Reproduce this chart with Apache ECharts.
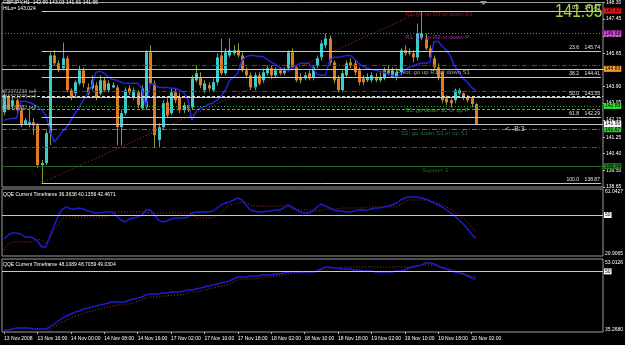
<!DOCTYPE html>
<html><head><meta charset="utf-8">
<script src="https://cdn.jsdelivr.net/npm/echarts@6/dist/echarts.min.js"></script>
<style>html,body{margin:0;padding:0;background:#000;}#c{width:625px;height:345px;}</style>
</head><body><div id="c"></div>
<script>
const symbolLabel = "GBPJPY,H1";
const lastBar = [142.99, 143.03, 141.91, 141.95];
const hiloText = "HiLo= 143.024";
const timeLabels = ["13 Nov 2008","13 Nov 16:00","14 Nov 00:00","14 Nov 08:00","14 Nov 16:00","17 Nov 02:00","17 Nov 10:00","17 Nov 18:00","18 Nov 02:00","18 Nov 10:00","18 Nov 18:00","19 Nov 02:00","19 Nov 10:00","19 Nov 18:00","20 Nov 02:00"];
const priceTicks = [148.30,147.45,146.55,145.65,144.80,143.90,143.05,142.15,141.25,140.40,139.50,138.65];
const opens = [142.56,143.34,142.93,143.19,142.67,141.94,141.94,142.04,141.88,139.80,
139.90,141.47,145.53,145.12,144.86,145.38,143.71,143.55,144.07,144.75,
143.86,143.81,143.97,143.55,144.23,143.71,143.86,143.86,141.78,142.51,
143.81,143.34,143.60,142.77,142.82,145.69,144.07,141.10,141.78,143.08,
142.51,143.60,143.34,142.67,142.93,142.82,144.23,144.39,143.71,143.97,
143.71,144.13,145.53,144.60,145.53,145.64,145.80,145.53,144.75,144.49,
143.86,144.49,144.23,144.60,144.86,144.49,144.75,144.60,144.86,145.69,
144.91,144.39,144.33,144.60,144.39,145.01,145.43,146.06,146.42,145.17,
144.33,143.71,144.49,145.17,145.12,144.75,144.33,144.23,144.23,144.39,
144.23,144.33,144.75,144.39,144.39,144.65,145.80,145.64,145.64,145.43,
146.47,146.37,145.90,145.38,144.91,144.65,143.29,143.19,143.19,143.55,
143.55,143.34,143.29,142.99];
const highs = [143.60,143.45,143.34,143.29,142.82,142.25,142.67,142.25,141.99,140.06,
141.62,145.69,145.80,145.27,146.21,145.53,143.81,144.23,145.01,144.91,
144.07,144.49,144.13,144.49,144.39,144.23,144.13,143.97,142.67,143.86,
143.97,143.86,143.71,143.97,145.80,146.06,144.23,141.99,143.19,143.29,
143.81,143.81,143.55,143.08,143.03,144.49,145.01,144.65,144.23,144.13,
144.33,145.64,146.42,145.90,146.42,146.06,146.16,145.69,144.91,144.65,
144.65,144.65,144.86,145.01,145.01,144.91,144.91,144.91,145.80,145.90,
145.01,144.60,144.65,144.75,145.01,145.53,146.32,146.68,146.58,145.27,
144.49,144.75,145.27,145.38,145.27,144.91,144.49,144.60,144.65,144.60,
144.65,144.91,145.01,144.91,144.86,145.90,146.06,145.90,145.80,147.20,
147.83,146.68,146.06,145.53,145.12,144.75,143.45,143.29,143.81,143.81,
143.60,143.45,143.40,143.03];
const lows = [142.40,142.67,142.77,142.51,141.78,141.88,141.78,141.36,139.64,138.87,
139.80,140.84,145.01,144.65,144.75,143.60,143.19,143.34,143.97,143.86,
143.45,143.71,143.19,143.45,143.60,143.60,143.81,140.84,140.84,142.40,
143.45,143.19,142.77,142.67,142.67,143.97,140.68,140.73,141.62,142.25,
142.40,143.03,142.51,142.51,142.56,142.67,144.13,143.81,143.55,143.60,
143.60,143.97,144.49,144.49,145.43,145.53,145.43,144.65,144.33,143.71,
143.71,143.97,144.07,144.49,144.33,144.39,144.49,144.49,144.75,144.75,
144.13,144.07,144.23,144.23,144.23,144.86,145.27,145.90,145.01,144.07,
143.60,143.60,144.39,144.86,144.49,143.97,143.97,144.13,144.13,144.13,
144.13,144.23,144.49,144.33,144.23,144.49,145.53,145.53,145.17,145.27,
146.32,145.80,145.27,144.75,144.23,143.03,142.93,142.82,143.03,143.45,
143.19,143.08,142.82,141.91];
const closes = [143.45,142.77,143.19,142.67,141.88,142.14,142.04,141.88,139.80,139.90,
141.47,145.53,145.12,144.75,145.38,143.71,143.34,144.13,144.75,144.07,
143.55,144.23,143.34,144.23,143.71,144.07,143.97,141.78,142.51,143.71,
143.60,143.71,142.93,143.81,145.69,144.07,141.36,141.78,143.03,142.40,
143.60,143.19,142.67,142.93,142.77,144.33,144.60,143.97,144.07,143.81,
144.13,145.43,144.60,145.69,145.80,145.80,145.53,144.75,144.49,143.86,
144.49,144.07,144.65,144.86,144.49,144.75,144.60,144.75,145.69,144.91,
144.23,144.23,144.49,144.33,144.91,145.38,146.16,146.42,145.17,144.23,
143.71,144.60,145.12,145.01,144.65,144.13,144.13,144.39,144.49,144.23,
144.39,144.75,144.60,144.75,144.65,145.80,145.64,145.69,145.43,146.68,
146.68,145.90,145.43,144.91,144.39,143.19,143.08,143.03,143.71,143.71,
143.34,143.19,142.99,141.95];
const maLine = [142.14,142.20,142.25,142.25,143.13,143.13,143.08,142.98,142.87,142.67,
142.40,141.62,141.00,141.26,141.57,141.78,142.14,142.51,142.82,143.19,
143.55,143.92,144.65,144.70,144.60,144.39,144.28,144.23,144.13,144.07,
144.07,144.07,144.07,143.81,142.82,144.02,144.02,143.86,143.86,143.86,
143.81,143.81,143.71,143.60,143.29,142.14,142.61,142.77,142.87,142.98,
143.03,143.19,143.40,143.71,144.23,144.39,144.60,145.27,145.47,145.53,
145.53,145.47,145.47,145.33,145.17,145.07,144.91,144.80,144.75,144.86,
145.01,145.12,145.12,145.12,144.86,144.54,144.49,144.49,145.27,145.43,
145.43,145.47,145.53,145.53,145.33,145.12,144.96,144.86,144.80,144.75,
144.70,144.65,144.54,144.49,144.39,144.54,144.75,144.91,144.96,145.07,
145.12,145.12,145.17,146.26,146.26,146.00,145.80,145.47,144.96,144.65,
144.33,144.13,143.86,143.71];
const qqe1Fast = [35.84,38.20,39.38,39.38,38.79,37.02,37.02,36.43,34.66,31.11,
31.11,37.61,43.51,50.00,53.54,54.72,53.54,53.54,54.13,53.54,
52.36,51.77,51.18,51.18,51.77,51.77,51.77,49.41,47.05,45.87,
47.64,48.23,48.82,50.00,52.95,52.95,50.00,47.05,45.87,46.46,
47.64,48.23,48.23,48.23,48.82,51.18,51.77,51.77,51.77,51.77,
52.36,54.13,55.90,57.08,57.67,58.85,60.03,58.85,55.90,52.95,
52.36,51.77,51.77,52.36,52.36,52.95,52.95,54.13,55.90,54.72,
52.95,51.77,51.18,51.18,52.36,54.72,56.49,55.31,54.13,52.95,
52.36,52.36,51.77,51.77,52.36,52.95,52.95,52.95,53.54,54.13,
54.13,54.72,55.31,55.90,57.08,58.85,60.03,60.62,60.62,60.62,
60.03,59.44,58.26,57.08,55.90,54.72,52.95,51.18,49.41,47.05,
44.69,41.74,38.79,36.36];
const qqe1Slow = [29.34,32.88,34.07,34.07,34.07,34.07,34.07,34.07,35.84,35.25,
33.48,36.43,41.15,44.69,48.23,48.82,48.82,48.82,48.82,48.82,
48.82,48.82,48.82,48.82,48.82,48.82,51.18,51.77,51.77,51.77,
51.77,51.77,51.77,51.77,51.77,51.18,51.18,51.18,51.18,51.18,
51.18,51.18,51.18,51.18,51.18,51.18,48.23,48.23,48.23,48.23,
48.23,49.41,51.18,54.13,55.90,56.49,57.08,57.67,57.67,55.90,
55.31,55.31,55.31,55.31,55.31,55.31,55.31,55.31,54.72,53.54,
53.54,52.95,52.95,52.95,52.95,52.36,52.95,53.54,53.54,53.54,
53.54,54.13,54.13,54.13,54.13,54.13,54.13,54.72,54.72,54.72,
54.72,54.72,54.72,54.72,54.72,55.90,57.67,58.85,58.85,58.85,
58.85,58.85,58.26,57.67,57.08,55.90,54.72,53.54,51.77,50.00,
48.23,45.87,42.92,40.14];
const qqe2Fast = [35.75,35.75,35.99,36.24,36.24,36.24,36.24,35.99,35.99,35.99,
35.99,36.48,37.21,37.94,38.67,39.16,39.64,40.13,40.37,40.86,
41.10,41.34,41.59,41.83,42.07,42.32,42.56,42.56,42.56,42.56,
43.05,43.29,43.53,43.78,44.26,44.50,44.50,44.50,44.75,44.75,
44.99,44.99,44.99,45.23,45.48,45.48,45.72,45.96,46.21,46.45,
46.69,46.94,47.18,47.42,47.67,48.15,48.64,48.64,48.64,48.88,
48.88,48.88,49.12,49.12,49.12,49.37,49.37,49.61,49.85,49.85,
49.85,49.85,49.85,49.85,49.85,50.10,50.58,51.07,51.07,50.83,
50.83,50.58,50.58,50.58,50.34,50.34,50.10,50.10,50.10,49.85,
49.85,49.85,49.85,49.85,50.10,50.10,50.34,50.83,51.07,51.31,
51.55,52.04,52.04,51.80,51.31,50.83,50.58,50.10,49.85,49.61,
49.37,48.88,48.39,48.11];
const qqe2Slow = [35.26,35.26,35.26,35.26,35.26,35.26,35.26,35.26,35.26,35.26,
35.51,35.75,36.48,37.21,37.69,38.18,38.67,39.16,39.40,39.89,
40.13,40.37,40.61,40.86,41.10,41.34,41.59,41.83,41.83,41.83,
42.07,42.32,42.80,43.05,43.53,43.78,43.78,43.78,44.02,44.02,
44.26,44.26,44.26,44.50,44.75,44.99,44.99,45.23,45.48,45.72,
45.96,46.21,46.45,46.69,46.94,47.42,47.91,48.15,48.15,48.15,
48.15,48.39,48.39,48.64,48.64,48.88,48.88,49.12,49.37,49.61,
49.61,49.61,49.85,49.85,49.85,49.85,50.10,50.34,50.58,50.83,
50.83,51.07,51.07,51.07,51.07,51.07,51.07,51.07,51.07,51.07,
51.07,51.07,51.07,51.07,51.07,51.07,51.07,51.07,51.31,51.31,
51.55,51.55,51.55,51.55,51.31,51.07,50.83,50.58,50.34,49.85,
49.61,49.12,48.88,48.71];
const qqe1Header = [36.3638, 40.1359, 42.4671];
const qqe2Header = [48.1089, 48.7059, 49.0304];
const qqe1AxisLabels = ["61.0427", "20.9065"];
const qqe2AxisLabels = ["53.0126", "35.2680"];
const qqeLevel = 50;
const fibLevels = [0.0, 23.6, 38.2, 50.0, 61.8, 100.0];
const fibPrices = [147.83, 145.74, 144.41, 143.35, 142.29, 138.87];
const fibAnchorBars = [9, 100];
const pivotNames = ["R2: go up R3 or down R1", "R1: go up R2 or down P", "Pivot: go up R1 or down S1", "S1: go down S2 or up P", "S2: go down S3 or up S1", "Support 3"];
const pivotPrices = [147.87, 146.68, 144.83, 142.89, 141.67, 139.74];
const pivotTextBars = [96, 96, 94, 96, 95, 100];
const redLinePrices = [145.01, 143.66, 140.73];
const orderLinePrices = [143.40, 142.72];
const orderLabelPrices = [143.66, 143.40, 142.82];
const orderLabels = ["#72071233 sell", "#11523348 sell", "#11503352 sell"];
const bidPrice = 141.95;
const arrowText = "<--B:3";
const arrowBar = 120;

const N = 144;
const cats = Array.from({length: N}, (_, i) => String(i));
const FONT = 'Liberation Sans';
const candleData = opens.map((o, i) => [i, o, closes[i], lows[i], highs[i]]);

function renderCandle(params, api) {
  const i = api.value(0), o = api.value(1), c = api.value(2), l = api.value(3), h = api.value(4);
  const pH = api.coord([i, h]), pL = api.coord([i, l]), pO = api.coord([i, o]), pC = api.coord([i, c]);
  const bw = Math.max(1, Math.round(api.size([1, 0])[0] * 0.7));
  const x = Math.round(pH[0]) + 0.5;
  const top = Math.min(pO[1], pC[1]), bot = Math.max(pO[1], pC[1]);
  const bull = c >= o;
  return {type: 'group', children: [
    {type: 'line', shape: {x1: x, y1: pH[1], x2: x, y2: pL[1]}, style: {stroke: '#7e9a3a', lineWidth: 1}},
    {type: 'rect', shape: {x: Math.round(x - bw / 2), y: top, width: bw, height: Math.max(1, bot - top)},
      style: {fill: bull ? '#3ccaca' : '#e07a24'}}
  ]};
}

const pivotLineColors = ['rgba(0,0,0,0)', '#cc44cc', '#dcc49a', '#22b022', '#2e9a50', '#1f6a1f'];
const pivotLineTypes = ['solid', [1, 2], 'solid', [1, 2], [5, 2, 1, 2], 'solid'];
const pivotBoxColors = ['#e01010', '#e040e0', '#f0a030', '#30e030', '#30c030', '#1f7a1f'];
const pivotTextColors = ['#b02020', '#c040c0', '#d8c8a8', '#30c030', '#2f8a4a', '#2f7a2f'];

const mainMarkData = [];
pivotPrices.forEach((p, k) => {
  mainMarkData.push({yAxis: p, lineStyle: {color: pivotLineColors[k], type: pivotLineTypes[k], width: 1},
    label: {show: true, position: 'end', distance: 1, formatter: p.toFixed(2), backgroundColor: pivotBoxColors[k],
      color: '#000', fontSize: 5, padding: [1, 1, 0, 1], fontFamily: FONT}});
});
redLinePrices.forEach(p => mainMarkData.push({yAxis: p, lineStyle: {color: '#b02020', type: [5, 2, 1, 2], width: 1}, label: {show: false}}));
mainMarkData.push({yAxis: orderLinePrices[0], lineStyle: {color: '#d8d8d8', type: [3, 2], width: 1}, label: {show: false}});
mainMarkData.push({yAxis: orderLinePrices[1], lineStyle: {color: '#8a8a8a', type: [3, 2], width: 1}, label: {show: false}});
mainMarkData.push({yAxis: bidPrice, lineStyle: {color: '#c8c8c8', type: 'solid', width: 1},
  label: {show: true, position: 'end', distance: 1, formatter: bidPrice.toFixed(2), backgroundColor: '#ffffff', color: '#000', fontSize: 5, padding: [1, 1, 0, 1], fontFamily: FONT}});
fibPrices.forEach((p, k) => {
  mainMarkData.push([
    {coord: [fibAnchorBars[0], p], lineStyle: {color: '#c8c8c8', type: 'solid', width: 1},
      label: {show: true, position: 'insideEndTop', distance: 1, formatter: fibLevels[k].toFixed(1) + '    ' + p.toFixed(2), color: '#e8e8e8', fontSize: 5, fontFamily: FONT}},
    {coord: [N - 1, p]}
  ]);
});

const textData = [];
pivotNames.forEach((t, k) => textData.push({value: [pivotTextBars[k], pivotPrices[k]],
  label: {formatter: t, color: pivotTextColors[k], position: 'right', distance: 0, offset: [0, 4], fontSize: 6}}));
orderLabels.forEach((t, k) => textData.push({value: [8, orderLabelPrices[k]],
  label: {formatter: t, color: '#d0d0d0', position: 'left', distance: 1, fontSize: 5}}));
textData.push({value: [arrowBar, pivotPrices[4]], label: {formatter: arrowText, color: '#ffffff', position: 'right', distance: 0, fontSize: 7}});

const levelMark = () => ({symbol: ['none', 'none'], silent: true, animation: false,
  data: [{yAxis: qqeLevel, lineStyle: {color: '#c8c8c8', type: 'solid', width: 1},
    label: {show: true, position: 'end', distance: 1, formatter: String(qqeLevel), backgroundColor: '#ffffff', color: '#000', fontSize: 5, padding: [1, 1, 0, 1], fontFamily: FONT}}]});

const chart = echarts.init(document.getElementById('c'));
const option = {
  backgroundColor: '#000',
  animation: false,
  textStyle: {fontFamily: FONT},
  grid: [
    {left: 2, right: 22, top: 2, height: 185, show: true, borderColor: '#9a9a9a', borderWidth: 1},
    {left: 2, right: 22, top: 189, height: 67, show: true, borderColor: '#9a9a9a', borderWidth: 1},
    {left: 2, right: 22, top: 259, height: 73, show: true, borderColor: '#9a9a9a', borderWidth: 1}
  ],
  xAxis: [0, 1, 2].map(g => ({
    type: 'category', gridIndex: g, data: cats, boundaryGap: true,
    axisLine: {show: false}, splitLine: {show: false},
    axisTick: {show: g === 2, interval: (i) => i % 8 === 0 && i / 8 < timeLabels.length, alignWithLabel: true, length: 2, lineStyle: {color: '#bbbbbb'}},
    axisLabel: {show: g === 2, interval: (i) => i % 8 === 0, formatter: (v, i) => (i % 8 === 0 && timeLabels[i / 8]) ? timeLabels[i / 8] : '',
      align: 'left', fontSize: 5, color: '#ffffff', margin: 4, fontFamily: FONT}
  })),
  yAxis: [
    {type: 'value', gridIndex: 0, position: 'right', min: 138.65, max: 148.30, splitLine: {show: false}, axisLine: {show: false},
      axisTick: {show: true, customValues: priceTicks, length: 2, lineStyle: {color: '#bbbbbb'}},
      axisLabel: {customValues: priceTicks, formatter: v => v.toFixed(2), fontSize: 5, color: '#ffffff', margin: 3, fontFamily: FONT}},
    {type: 'value', gridIndex: 1, position: 'right', min: 25.80, max: 65.35, splitLine: {show: false}, axisLine: {show: false}, axisTick: {show: false}, axisLabel: {show: false}},
    {type: 'value', gridIndex: 2, position: 'right', min: 35.268, max: 53.0126, splitLine: {show: false}, axisLine: {show: false}, axisTick: {show: false}, axisLabel: {show: false}}
  ],
  series: [
    {type: 'line', name: 'levels', xAxisIndex: 0, yAxisIndex: 0, data: [], symbol: 'none', z: 1,
      markLine: {symbol: ['none', 'none'], silent: true, animation: false, data: mainMarkData}},
    {type: 'custom', name: 'candles', xAxisIndex: 0, yAxisIndex: 0, renderItem: renderCandle, data: candleData,
      encode: {x: 0, y: [1, 2, 3, 4]}, z: 3},
    {type: 'line', name: 'fibTrend', xAxisIndex: 0, yAxisIndex: 0, data: [[fibAnchorBars[0], fibPrices[5]], [fibAnchorBars[1], fibPrices[0]]],
      symbol: 'none', lineStyle: {color: '#c03030', width: 1, type: [1, 2]}, z: 4},
    {type: 'line', name: 'ma', xAxisIndex: 0, yAxisIndex: 0, data: maLine, symbol: 'none', lineStyle: {color: '#2424d8', width: 1.5}, z: 4},
    {type: 'scatter', name: 'texts', xAxisIndex: 0, yAxisIndex: 0, data: textData, symbolSize: 1, itemStyle: {color: 'rgba(0,0,0,0)'},
      label: {show: true, fontFamily: FONT}, z: 6},
    {type: 'line', xAxisIndex: 1, yAxisIndex: 1, data: qqe1Slow, symbol: 'none', lineStyle: {color: '#b83030', width: 1, type: [1, 2]}, markLine: levelMark()},
    {type: 'line', xAxisIndex: 1, yAxisIndex: 1, data: qqe1Fast, symbol: 'none', lineStyle: {color: '#1c1ccc', width: 1.5}},
    {type: 'line', xAxisIndex: 2, yAxisIndex: 2, data: qqe2Slow, symbol: 'none', lineStyle: {color: '#b83030', width: 1, type: [1, 2]}, markLine: levelMark()},
    {type: 'line', xAxisIndex: 2, yAxisIndex: 2, data: qqe2Fast, symbol: 'none', lineStyle: {color: '#1c1ccc', width: 1.5}}
  ],
  graphic: [
    {type: 'text', left: 3, top: 0, style: {text: symbolLabel + '  ' + lastBar.map(v => v.toFixed(2)).join(' '), fill: '#ffffff', font: '5px ' + FONT}},
    {type: 'text', left: 3, top: 6, style: {text: hiloText, fill: '#ffffff', font: '5px ' + FONT}},
    {type: 'text', x: 555, y: 3, scaleX: 0.86, style: {text: closes[closes.length - 1].toFixed(2), fill: '#a2d63a', font: '18px ' + FONT}, z: 10},
    {type: 'text', left: 3, top: 192, style: {text: 'QQE Current Timeframe ' + qqe1Header.join(' '), fill: '#ffffff', font: '5px ' + FONT}},
    {type: 'text', left: 3, top: 262, style: {text: 'QQE Current Timeframe ' + qqe2Header.join(' '), fill: '#ffffff', font: '5px ' + FONT}},
    {type: 'text', left: 605, top: 189, style: {text: qqe1AxisLabels[0], fill: '#ffffff', font: '5px ' + FONT}},
    {type: 'text', left: 605, top: 251, style: {text: qqe1AxisLabels[1], fill: '#ffffff', font: '5px ' + FONT}},
    {type: 'text', left: 605, top: 260, style: {text: qqe2AxisLabels[0], fill: '#ffffff', font: '5px ' + FONT}},
    {type: 'text', left: 605, top: 327, style: {text: qqe2AxisLabels[1], fill: '#ffffff', font: '5px ' + FONT}},
    {type: 'polygon', shape: {points: [[480, 1], [487, 1], [483.5, 5]]}, style: {fill: '#9a9a9a'}}
  ]
};
chart.setOption(option);
</script>
</body></html>
